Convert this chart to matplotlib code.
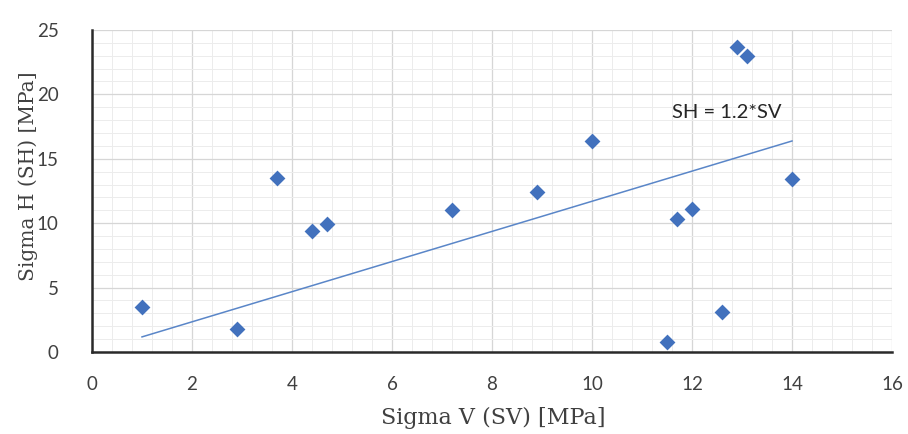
import numpy as np
import matplotlib.pyplot as plt
from matplotlib.ticker import MultipleLocator

# Data
sigma_v = [1.0, 2.9, 3.7, 4.4, 4.7, 7.2, 8.9, 10.0, 11.5, 11.7, 12.0, 12.6, 12.9, 13.1, 14.0]
sigma_h = [3.5, 1.8, 13.5, 9.4, 9.9, 11.0, 12.4, 16.4, 0.8, 10.3, 11.1, 3.1, 23.7, 23.0, 13.4]

# trendline through origin (labelled as 1.2)
slope = 1.17
trend_label = "SH = 1.2*SV"

blue = "#4271BD"
tick_font = "Lato"
label_font = "DejaVu Serif"

fig = plt.figure(figsize=(9.08, 4.34), dpi=100)
ax = fig.add_axes([0.1013, 0.189, 0.8811, 0.742])

ax.scatter(sigma_v, sigma_h, marker="D", s=65, color=blue, zorder=3, linewidths=0)

x_line = np.array([min(sigma_v), max(sigma_v)])
ax.plot(x_line, slope * x_line, color="#5A86C8", lw=1.1, zorder=2)
ax.text(12.7, 18.6, trend_label, ha="center", va="center",
        fontsize=14.5, family=tick_font, color="#262626")

ax.set_xlim(0, 16)
ax.set_ylim(0, 25)
ax.xaxis.set_major_locator(MultipleLocator(2))
ax.xaxis.set_minor_locator(MultipleLocator(0.4))
ax.yaxis.set_major_locator(MultipleLocator(5))
ax.yaxis.set_minor_locator(MultipleLocator(1))

ax.grid(which="major", color="#d6d6d6", lw=0.9)
ax.grid(which="minor", color="#ececec", lw=0.7)
ax.set_axisbelow(True)

for side in ["top", "right"]:
    ax.spines[side].set_visible(False)
for side in ["left", "bottom"]:
    ax.spines[side].set_color("#2a2a2a")
    ax.spines[side].set_linewidth(1.8)

ax.tick_params(which="both", length=0)
ax.tick_params(axis="x", pad=17)
ax.tick_params(axis="y", pad=24)
for lbl in ax.get_xticklabels() + ax.get_yticklabels():
    lbl.set_family(tick_font)
    lbl.set_fontsize(13.5)
    lbl.set_color("#404040")

ax.set_xlabel("Sigma V (SV) [MPa]", family=label_font, fontsize=16, color="#404040", va="center")
ax.set_ylabel("Sigma H (SH) [MPa]", family=label_font, fontsize=14.5, color="#404040", va="center")
ax.xaxis.set_label_coords(0.501, -0.205)
ax.yaxis.set_label_coords(-0.08, 0.547)

fig.savefig("out.png", dpi=100)
